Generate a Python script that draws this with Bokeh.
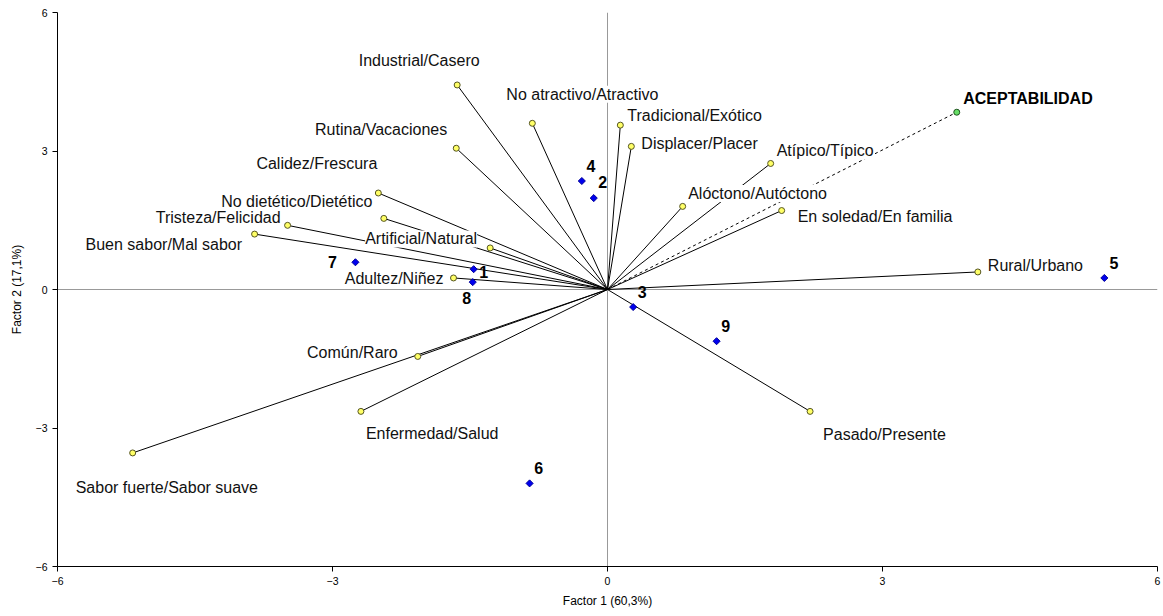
import numpy as np
from bokeh.plotting import figure
from bokeh.models import ColumnDataSource, FixedTicker, Span
from bokeh.core.properties import value
from bokeh.embed import file_html
from bokeh.resources import INLINE

# ---------------- data ----------------
var_names = ["Industrial/Casero", "No atractivo/Atractivo", "Tradicional/Exótico",
             "Displacer/Placer", "Rutina/Vacaciones", "Calidez/Frescura",
             "No dietético/Dietético", "Tristeza/Felicidad", "Buen sabor/Mal sabor",
             "Artificial/Natural", "Adultez/Niñez", "Atípico/Típico",
             "Alóctono/Autóctono", "En soledad/En familia", "Rural/Urbano",
             "Pasado/Presente", "Común/Raro", "Enfermedad/Salud",
             "Sabor fuerte/Sabor suave"]
var_f1 = [-1.64, -0.82, 0.14, 0.26, -1.65, -2.50, -2.44, -3.49, -3.85, -1.28,
          -1.68, 1.78, 0.82, 1.90, 4.04, 2.21, -2.07, -2.69, -5.18]
var_f2 = [4.43, 3.60, 3.56, 3.10, 3.06, 2.09, 1.54, 1.39, 1.20, 0.90,
          0.25, 2.73, 1.80, 1.71, 0.38, -2.64, -1.45, -2.64, -3.54]

sup_names = ["ACEPTABILIDAD"]
sup_f1 = [3.81]
sup_f2 = [3.84]

obs_names = ["1", "2", "3", "4", "5", "6", "7", "8", "9"]
obs_f1 = [-1.46, -0.15, 0.28, -0.28, 5.42, -0.85, -2.75, -1.47, 1.19]
obs_f2 = [0.44, 1.98, -0.38, 2.35, 0.25, -4.20, 0.59, 0.16, -1.12]

axis_ticks = [-6, -3, 0, 3, 6]
x_title = "Factor 1 (60,3%)"
y_title = "Factor 2 (17,1%)"

# ---------------- label placement (pixels, styling only) ----------------
var_label_layout = [  # (dx, dy, align)
    (-38, -24.5, "center"), (-26, -29, "left"), (7, -10, "left"), (10, -3, "left"),
    (-9, -19, "right"), (-1, -30, "right"), (-11.5, -17, "right"), (-7, -8, "right"),
    (-12.5, 10, "right"), (-13, -9, "right"), (-10, 1, "right"), (6, -12.5, "left"),
    (5.5, -13, "left"), (16, 6, "left"), (10, -6, "left"), (13, 23, "left"),
    (-20, -4, "right"), (5, 22, "left"), (-57, 34.5, "left"),
]
sup_label_layout = [(6.5, -14, "left")]
obs_label_layout = [(10, 3), (9, -16), (9, -15), (9, -15), (9.5, -15), (9, -15),
                    (-23, 0), (-6, 16), (9, -15)]

FONT = value("Liberation Sans")

p = figure(width=1163, height=616, x_range=(-6, 6), y_range=(-6, 6),
           output_backend="svg", toolbar_location=None,
           min_border_left=57, min_border_right=6, min_border_top=12,
           min_border_bottom=50)
p.outline_line_color = None
p.grid.visible = False
p.background_fill_color = "white"
p.border_fill_color = "white"

for ax in (p.xaxis[0], p.yaxis[0]):
    ax.ticker = FixedTicker(ticks=axis_ticks)
    ax.minor_tick_line_color = None
    ax.major_tick_in = 0
    ax.major_tick_out = 5
    ax.axis_line_color = "black"
    ax.major_tick_line_color = "black"
    ax.major_label_text_font = "Liberation Sans"
    ax.major_label_text_font_size = "10.5px"
    ax.major_label_text_color = "black"
    ax.axis_label_text_font = "Liberation Sans"
    ax.axis_label_text_font_size = "12px"
    ax.axis_label_text_font_style = "normal"
    ax.axis_label_text_color = "black"
p.xaxis.axis_label = x_title
p.yaxis.axis_label = y_title
p.xaxis.axis_label_standoff = 6
p.yaxis.axis_label_standoff = 9

p.add_layout(Span(location=0, dimension="width", line_color="#999999", line_width=1, level="underlay"))
p.add_layout(Span(location=0, dimension="height", line_color="#999999", line_width=1, level="underlay"))

# vectors
vx = np.array(var_f1)
vy = np.array(var_f2)
p.segment(x0=np.zeros_like(vx), y0=np.zeros_like(vy), x1=vx, y1=vy,
          line_color="black", line_width=1)
sx = np.array(sup_f1)
sy = np.array(sup_f2)
p.segment(x0=np.zeros_like(sx), y0=np.zeros_like(sy), x1=sx, y1=sy,
          line_color="black", line_width=1, line_dash="3 3")

# labels for variables, grouped by alignment
for align in ("left", "right", "center"):
    idx = [i for i, l in enumerate(var_label_layout) if l[2] == align]
    src = ColumnDataSource(dict(
        x=[var_f1[i] for i in idx], y=[var_f2[i] for i in idx],
        t=[var_names[i] for i in idx],
        dx=[var_label_layout[i][0] for i in idx],
        dy=[var_label_layout[i][1] for i in idx]))
    p.text(x="x", y="y", text="t", x_offset="dx", y_offset="dy", source=src,
           text_align=align, text_baseline="middle", text_font=FONT,
           text_font_size="16px", text_color="#111111",
           background_fill_color="white")

src_sup = ColumnDataSource(dict(x=sup_f1, y=sup_f2, t=sup_names,
                                dx=[l[0] for l in sup_label_layout],
                                dy=[l[1] for l in sup_label_layout]))
p.text(x="x", y="y", text="t", x_offset="dx", y_offset="dy", source=src_sup,
       text_align="left", text_baseline="middle", text_font=FONT,
       text_font_size="16px", text_font_style="bold", text_color="black",
       background_fill_color="white")

src_obs_lbl = ColumnDataSource(dict(x=obs_f1, y=obs_f2, t=obs_names,
                                    dx=[l[0] for l in obs_label_layout],
                                    dy=[l[1] for l in obs_label_layout]))
p.text(x="x", y="y", text="t", x_offset="dx", y_offset="dy", source=src_obs_lbl,
       text_align="center", text_baseline="middle", text_font=FONT,
       text_font_size="16px", text_font_style="bold", text_color="black")

# markers
p.scatter(x=var_f1, y=var_f2, marker="circle", size=6,
          fill_color="#ffff66", line_color="#555522", line_width=1)
p.scatter(x=sup_f1, y=sup_f2, marker="circle", size=6,
          fill_color="#66dd66", line_color="#225522", line_width=1)
p.scatter(x=obs_f1, y=obs_f2, marker="square", angle=np.pi / 4, size=5,
          fill_color="#0000ee", line_color="#000099", line_width=1)

open("out.html", "w").write(file_html(p, INLINE))
